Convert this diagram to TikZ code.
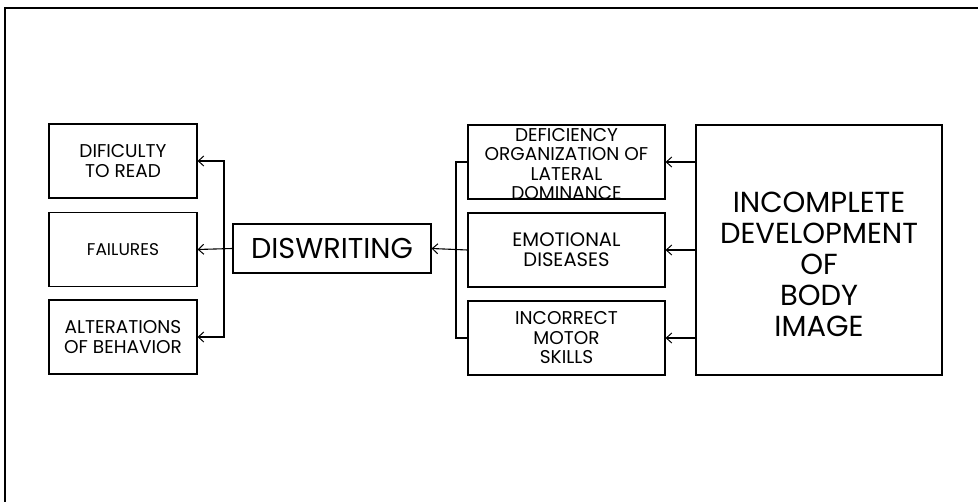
\documentclass[tikz,border=0pt]{standalone}
\usepackage{fontspec}
\setmainfont{Poppins}
\usetikzlibrary{arrows.meta}
\tikzset{
  box/.style={draw, line width=1.1pt, inner sep=0pt, align=center,
    font=\fontsize{18.5}{19.5}\selectfont},
  sidebox/.style={box, minimum width=148pt, minimum height=74pt},
  midbox/.style={box, minimum width=197pt, minimum height=74pt},
  boxtext/.style={align=center, inner sep=0pt, font=\fontsize{18.5}{19.6}\selectfont},
  bigtext/.style={align=center, inner sep=0pt, font=\fontsize{29}{31}\selectfont},
  link/.style={line width=1.1pt},
  arr/.style={link, -{Straight Barb[length=5.5pt,width=10pt,line width=1pt]}}
}
\begin{document}
\begin{tikzpicture}[x=1pt,y=-1pt]
  \useasboundingbox (0,0) rectangle (978,502);
  % frame edges along the top and the left
  \draw[line width=2.4pt] (5,502) -- (5,8) -- (978,8);

  % outcomes on the left
  \node[sidebox] (read)  at (123,161)   {DIFICULTY\\TO READ};
  \node[sidebox, font=\fontsize{17}{19}\selectfont] (fail) at (123,249.5) {FAILURES};
  \node[sidebox] (alter) at (123,337)   {ALTERATIONS\\OF BEHAVIOR};

  % central problem
  \node[box, minimum width=198pt, minimum height=49pt,
        font=\fontsize{28.7}{30}\selectfont] (disw) at (332,248.5) {DISWRITING};

  % intermediate causes; the first one's text runs down onto its lower edge
  \node[midbox] (defi) at (566.5,162) {};
  \node[boxtext] (defitext) at ([yshift=-2pt]defi.center)
        {DEFICIENCY\\ORGANIZATION OF\\LATERAL\\DOMINANCE};
  \node[midbox, font=\fontsize{19.5}{20}\selectfont] (emo) at (566.5,250) {EMOTIONAL\\DISEASES};
  \node[midbox] (motor) at (566.5,338) {INCORRECT\\MOTOR\\SKILLS};

  % root cause: frame and its text, set a little below centre
  \node[draw, line width=1.1pt, minimum width=246pt, minimum height=250pt] (body) at (819,250) {};
  \node[bigtext] (bodytext) at ([yshift=-14pt]body.center)
        {INCOMPLETE\\DEVELOPMENT\\OF\\BODY\\IMAGE};

  % root cause feeds each intermediate cause
  \draw[arr] (body.west |- defi.east)  -- (defi.east);
  \draw[arr] (body.west |- emo.east)   -- (emo.east);
  \draw[arr] (body.west |- motor.east) -- (motor.east);

  % intermediate causes merge into the central problem
  \coordinate (rbus) at (456,250);
  \draw[link] (defi.west) -| (rbus) |- (motor.west);
  \draw[arr] (emo.west) -- (disw.east);

  % central problem branches to the outcomes
  \coordinate (lbus) at (224,249);
  \draw[arr] (disw.west) -- (fail.east);
  \draw[arr] (lbus) |- (read.east);
  \draw[arr] (lbus) |- (alter.east);
\end{tikzpicture}
\end{document}
